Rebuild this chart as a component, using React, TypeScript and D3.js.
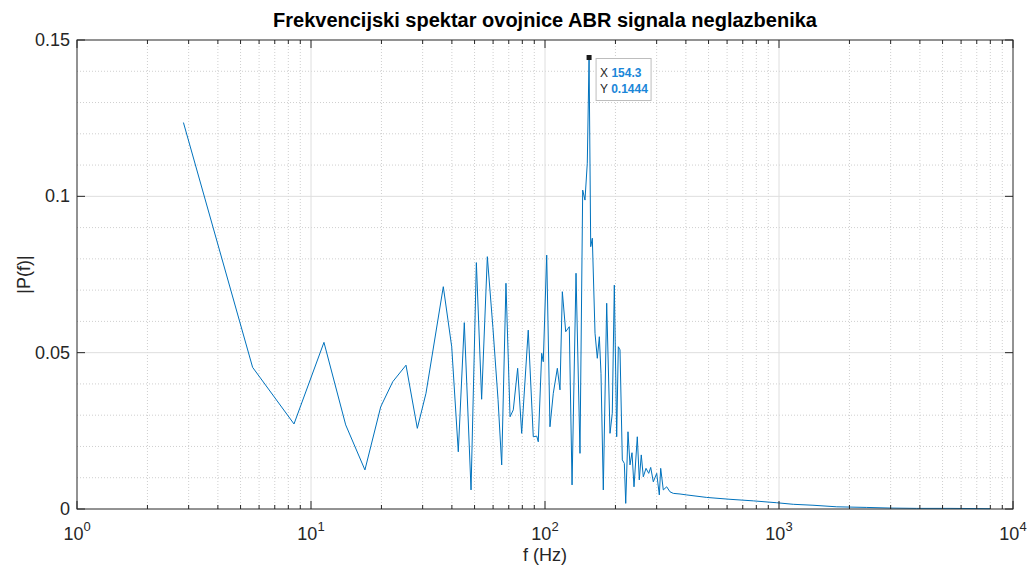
import * as d3 from "d3";
import { useEffect, useRef } from "react";

// frequency bins (Hz)
const freqHz = [
    2.85, 5.63, 8.46, 11.36, 14.07, 17.0, 19.86, 22.35, 25.47, 28.47,
    31.0, 36.76, 39.93, 42.6, 45.2, 48.3, 50.9, 53.6, 56.7, 59.9,
    63.0, 65.3, 68.1, 70.9, 73.2, 76.4, 79.5, 84.8, 89.1, 92.2,
    93.6, 96.8, 98.3, 101.7, 105.0, 108.5, 112.9, 115.9, 118.6, 122.6,
    127.0, 130.5, 135.7, 141.1, 144.9, 148.2, 151.6, 154.3, 156.8, 159.3,
    163.6, 167.3, 170.7, 173.5, 177.5, 183.5, 189.6, 193.9, 197.8, 202.5,
    205.7, 209.2, 214.0, 218.3, 221.3, 226.3, 230.8, 235.4, 240.1, 248.0,
    252.9, 257.9, 263.1, 270.2, 277.5, 283.0, 290.3, 300.2, 308.0, 312.2,
    320.3, 331.2, 342.1, 353.4, 377.5, 403.3, 491, 617.6, 776.9, 977.7,
    1151, 1397, 1765, 2371, 2981, 3878, 5381, 7975,
];

// |P(f)| values
const magnitude = [
    0.1236, 0.0453, 0.0272, 0.0533, 0.0269, 0.0125, 0.0327, 0.0407, 0.046, 0.0258,
    0.037, 0.0711, 0.0519, 0.0183, 0.0596, 0.0061, 0.0788, 0.0351, 0.0807, 0.058,
    0.035, 0.0141, 0.0722, 0.0295, 0.0317, 0.045, 0.0242, 0.0572, 0.0231, 0.0233,
    0.0215, 0.0498, 0.0471, 0.0812, 0.0263, 0.037, 0.045, 0.0381, 0.0695, 0.0567,
    0.0583, 0.0077, 0.0754, 0.0178, 0.102, 0.0988, 0.1106, 0.1444, 0.0839, 0.0866,
    0.0562, 0.0482, 0.0551, 0.0434, 0.0061, 0.0658, 0.0242, 0.0306, 0.0716, 0.0231,
    0.0519, 0.0509, 0.0157, 0.0146, 0.0018, 0.0247, 0.0141, 0.018, 0.0071, 0.0231,
    0.0093, 0.0173, 0.0103, 0.013, 0.0114, 0.0133, 0.0087, 0.0114, 0.0045, 0.013,
    0.0061, 0.0071, 0.0055, 0.005, 0.0048, 0.0045, 0.0037, 0.0031, 0.0026, 0.002,
    0.0015, 0.0012, 0.0007, 0.0005, 0.0003, 0.0002, 0.0002, 0.0001,
];

const xExponents = [0, 1, 2, 3, 4];
const yTicks = [0, 0.05, 0.1, 0.15];
const yTickLabels = ["0", "0.05", "0.1", "0.15"];
const yMinorTicks = [0.01, 0.02, 0.03, 0.04, 0.06, 0.07, 0.08, 0.09, 0.11, 0.12, 0.13, 0.14];

const tipX = 154.3;
const tipY = 0.1444;

const titleText = "Frekvencijski spektar ovojnice ABR signala neglazbenika";
const xLabelText = "f (Hz)";
const yLabelText = "|P(f)|";

const font = "'Liberation Sans', Arial, Helvetica, sans-serif";
const axisColor = "#262626";
const lineColor = "#0072BD";

export default function App() {
    const svgRef = useRef<SVGSVGElement>(null);
    const svgWidth = 1027;
    const svgHeight = 568;
    const left = 77;
    const top = 40;
    const chartWidth = 936;
    const chartHeight = 469;

    useEffect(() => {
        if (svgRef.current) drawChart();
    }, [svgRef]);

    const drawChart = () => {
        const svg = d3.select(svgRef.current);
        svg.selectAll("*").remove();

        const scaleX = d3.scaleLog().domain([1, 10000]).range([0, chartWidth]);
        const scaleY = d3.scaleLinear().domain([0, 0.15]).range([chartHeight, 0]);

        svg.append("rect").attr("width", svgWidth).attr("height", svgHeight).attr("fill", "#ffffff");

        const chart = svg.append("g").attr("transform", "translate(" + left + "," + top + ")");

        // minor x positions 2..9 per decade
        const xMinor: number[] = [];
        for (let e = 0; e < 4; e++) {
            for (let m = 2; m <= 9; m++) xMinor.push(m * Math.pow(10, e));
        }
        const xMajor = xExponents.map((e) => Math.pow(10, e));

        // minor grid (dotted)
        const grid = chart.append("g");
        xMinor.forEach((v) => {
            grid.append("line")
                .attr("x1", scaleX(v)).attr("x2", scaleX(v))
                .attr("y1", 0).attr("y2", chartHeight)
                .attr("stroke", "#cfcfcf").attr("stroke-width", 1)
                .attr("stroke-dasharray", "1,2");
        });
        yMinorTicks.forEach((v) => {
            grid.append("line")
                .attr("x1", 0).attr("x2", chartWidth)
                .attr("y1", scaleY(v)).attr("y2", scaleY(v))
                .attr("stroke", "#cfcfcf").attr("stroke-width", 1)
                .attr("stroke-dasharray", "1,2");
        });
        // major grid (solid)
        xMajor.slice(1, -1).forEach((v) => {
            grid.append("line")
                .attr("x1", scaleX(v)).attr("x2", scaleX(v))
                .attr("y1", 0).attr("y2", chartHeight)
                .attr("stroke", "#dedede").attr("stroke-width", 1);
        });
        yTicks.slice(1, -1).forEach((v) => {
            grid.append("line")
                .attr("x1", 0).attr("x2", chartWidth)
                .attr("y1", scaleY(v)).attr("y2", scaleY(v))
                .attr("stroke", "#dedede").attr("stroke-width", 1);
        });

        // spectrum line
        const points = freqHz.map((f, i) => [f, magnitude[i]] as [number, number]);
        const line = d3.line<[number, number]>()
            .x((d) => scaleX(d[0]))
            .y((d) => scaleY(d[1]));
        chart.append("path")
            .attr("d", line(points))
            .attr("fill", "none")
            .attr("stroke", lineColor)
            .attr("stroke-width", 1)
            .attr("stroke-linejoin", "round");

        // axes box
        chart.append("rect")
            .attr("x", 0).attr("y", 0)
            .attr("width", chartWidth).attr("height", chartHeight)
            .attr("fill", "none").attr("stroke", axisColor).attr("stroke-width", 1);

        // ticks (inside, bottom and top)
        const ticks = chart.append("g").attr("stroke", axisColor).attr("stroke-width", 1);
        xMajor.forEach((v) => {
            ticks.append("line").attr("x1", scaleX(v)).attr("x2", scaleX(v)).attr("y1", chartHeight).attr("y2", chartHeight - 8);
            ticks.append("line").attr("x1", scaleX(v)).attr("x2", scaleX(v)).attr("y1", 0).attr("y2", 8);
        });
        xMinor.forEach((v) => {
            ticks.append("line").attr("x1", scaleX(v)).attr("x2", scaleX(v)).attr("y1", chartHeight).attr("y2", chartHeight - 4);
            ticks.append("line").attr("x1", scaleX(v)).attr("x2", scaleX(v)).attr("y1", 0).attr("y2", 4);
        });
        yTicks.forEach((v) => {
            ticks.append("line").attr("x1", 0).attr("x2", 8).attr("y1", scaleY(v)).attr("y2", scaleY(v));
            ticks.append("line").attr("x1", chartWidth).attr("x2", chartWidth - 8).attr("y1", scaleY(v)).attr("y2", scaleY(v));
        });

        // x tick labels 10^n
        xExponents.forEach((e) => {
            const t = chart.append("text")
                .attr("x", scaleX(Math.pow(10, e)))
                .attr("y", chartHeight + 31)
                .attr("text-anchor", "middle")
                .attr("font-family", font)
                .attr("font-size", 18)
                .attr("fill", axisColor);
            t.append("tspan").text("10");
            t.append("tspan").attr("dy", -9).attr("font-size", 13).text(String(e));
        });

        // y tick labels
        yTicks.forEach((v, i) => {
            chart.append("text")
                .attr("x", -7)
                .attr("y", scaleY(v) + 6)
                .attr("text-anchor", "end")
                .attr("font-family", font)
                .attr("font-size", 18)
                .attr("fill", axisColor)
                .text(yTickLabels[i]);
        });

        // axis labels and title
        svg.append("text")
            .attr("x", left + chartWidth / 2)
            .attr("y", 561)
            .attr("text-anchor", "middle")
            .attr("font-family", font)
            .attr("font-size", 18)
            .attr("fill", axisColor)
            .text(xLabelText);
        svg.append("text")
            .attr("transform", "translate(30," + (top + chartHeight / 2) + ") rotate(-90)")
            .attr("text-anchor", "middle")
            .attr("font-family", font)
            .attr("font-size", 18)
            .attr("fill", axisColor)
            .text(yLabelText);
        svg.append("text")
            .attr("x", left + chartWidth / 2)
            .attr("y", 27)
            .attr("text-anchor", "middle")
            .attr("font-family", font)
            .attr("font-size", 20)
            .attr("font-weight", "bold")
            .attr("fill", "#000000")
            .text(titleText);

        // data tip
        const px = scaleX(tipX);
        const py = scaleY(tipY);
        const tip = chart.append("g");
        tip.append("rect")
            .attr("x", px + 7).attr("y", py + 1)
            .attr("width", 55).attr("height", 42)
            .attr("fill", "#ffffff").attr("stroke", "#bdbdbd").attr("stroke-width", 1);
        tip.append("rect")
            .attr("x", px - 2.5).attr("y", py - 2.5)
            .attr("width", 5).attr("height", 5)
            .attr("fill", "#1a1a1a");
        const rowX = tip.append("text")
            .attr("x", px + 11).attr("y", py + 19)
            .attr("font-family", font).attr("font-size", 12).attr("fill", axisColor);
        rowX.append("tspan").text("X ");
        rowX.append("tspan").attr("fill", "#1a86d8").attr("font-weight", "bold").text(String(tipX));
        const rowY = tip.append("text")
            .attr("x", px + 11).attr("y", py + 35)
            .attr("font-family", font).attr("font-size", 12).attr("fill", axisColor);
        rowY.append("tspan").text("Y ");
        rowY.append("tspan").attr("fill", "#1a86d8").attr("font-weight", "bold").text(String(tipY));
    };

    return (
        <svg
            ref={svgRef}
            width={svgWidth}
            height={svgHeight}
            style={{ position: "absolute", left: 0, top: 0, display: "block" }}
        />
    );
}
